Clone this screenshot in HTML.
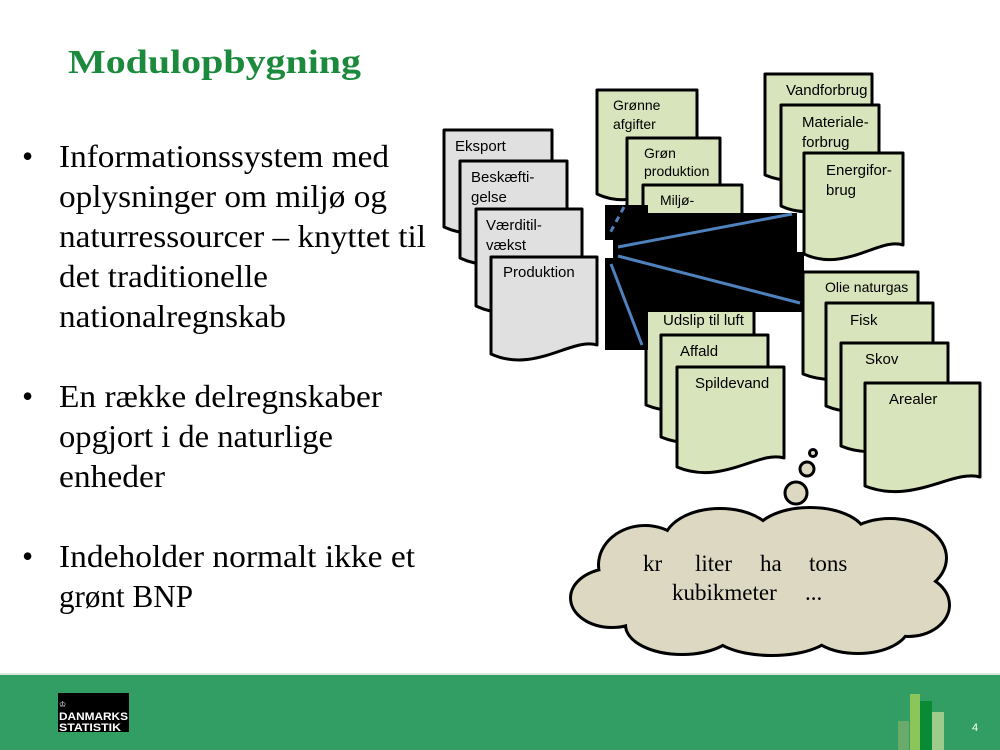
<!DOCTYPE html>
<html><head><meta charset="utf-8"><style>
html,body{margin:0;padding:0;background:#fff;}
svg{display:block;}
.t{font-family:"Liberation Serif",serif;}
.a{font-family:"Liberation Sans",sans-serif;font-size:15px;fill:#000;}
</style></head><body>
<svg width="1000" height="750" viewBox="0 0 1000 750" xmlns="http://www.w3.org/2000/svg">
<rect width="1000" height="750" fill="#fff"/>
<text x="68" y="73" class="t" font-size="34" font-weight="bold" fill="#1b8a3c" textLength="293" lengthAdjust="spacingAndGlyphs">Modulopbygning</text>
<g class="t" font-size="32" fill="#000" lengthAdjust="spacingAndGlyphs">
<text x="22" y="167">•</text>
<text x="59" y="167" textLength="330" lengthAdjust="spacingAndGlyphs">Informationssystem med</text>
<text x="59" y="207" textLength="328" lengthAdjust="spacingAndGlyphs">oplysninger om miljø og</text>
<text x="59" y="247" textLength="367" lengthAdjust="spacingAndGlyphs">naturressourcer – knyttet til</text>
<text x="59" y="287" textLength="209" lengthAdjust="spacingAndGlyphs">det traditionelle</text>
<text x="59" y="327" textLength="227" lengthAdjust="spacingAndGlyphs">nationalregnskab</text>
<text x="22" y="407">•</text>
<text x="59" y="407" textLength="323" lengthAdjust="spacingAndGlyphs">En række delregnskaber</text>
<text x="59" y="447" textLength="274" lengthAdjust="spacingAndGlyphs">opgjort i de naturlige</text>
<text x="59" y="487" textLength="106" lengthAdjust="spacingAndGlyphs">enheder</text>
<text x="22" y="567">•</text>
<text x="59" y="567" textLength="356" lengthAdjust="spacingAndGlyphs">Indeholder normalt ikke et</text>
<text x="59" y="607" textLength="134" lengthAdjust="spacingAndGlyphs">grønt BNP</text>
</g>
<g stroke="#000" stroke-width="3" stroke-linejoin="round">
<path fill="#e0e0e0" d="M444 130H552V219C527 211 490 248 444 227Z"/>
<path fill="#e0e0e0" d="M460 161H567V250C542 242 505 279 460 258Z"/>
<path fill="#e0e0e0" d="M476 209H582V298C557 290 520 327 476 306Z"/>
<path fill="#e0e0e0" d="M491 257H597V345C572 337 535 374 491 354Z"/>
<path fill="#d8e4bc" d="M597 90H697V185C672 178 637 213 597 194Z"/>
<path fill="#d8e4bc" d="M627 138H720V230C697 223 664 258 627 240Z"/>
<path fill="#d8e4bc" d="M643 185H742V278C719 271 684 306 643 288Z"/>
<path fill="#d8e4bc" d="M765 74H872V166C847 158 810 194 765 175Z"/>
<path fill="#d8e4bc" d="M781 105H879V197C856 189 821 225 781 206Z"/>
<path fill="#d8e4bc" d="M804 153H903V245C880 237 845 273 804 254Z"/>
<path fill="#d8e4bc" d="M646 300H754V396C729 388 692 424 646 405Z"/>
<path fill="#d8e4bc" d="M661 335H768V428C743 420 706 456 661 437Z"/>
<path fill="#d8e4bc" d="M677 367H784V458C759 450 722 486 677 467Z"/>
<path fill="#d8e4bc" d="M803 272H918V365C891 357 851 393 803 374Z"/>
<path fill="#d8e4bc" d="M826 303H933V397C908 389 871 425 826 406Z"/>
<path fill="#d8e4bc" d="M841 343H948V437C923 429 886 465 841 446Z"/>
<path fill="#d8e4bc" d="M865 383H980V477C953 469 913 505 865 486Z"/>
</g>
<g class="a">
<text x="455" y="151">Eksport</text>
<text x="471" y="182">Beskæfti-</text><text x="471" y="202">gelse</text>
<text x="486" y="230">Værditil-</text><text x="486" y="250">vækst</text>
<text x="503" y="277">Produktion</text>
<text x="613" y="110" font-size="14">Grønne</text><text x="613" y="129" font-size="14">afgifter</text>
<text x="644" y="158" font-size="14">Grøn</text><text x="644" y="176" font-size="14">produktion</text>
<text x="660" y="205" font-size="14">Miljø-</text>
<text x="786" y="95">Vandforbrug</text>
<text x="802" y="127">Materiale-</text><text x="802" y="147">forbrug</text>
<text x="826" y="175">Energifor-</text><text x="826" y="195">brug</text>
<text x="663" y="325">Udslip til luft</text>
<text x="680" y="356">Affald</text>
<text x="695" y="388">Spildevand</text>
<text x="825" y="292" font-size="14">Olie naturgas</text>
<text x="850" y="325">Fisk</text>
<text x="865" y="364">Skov</text>
<text x="889" y="404">Arealer</text>
</g>
<g fill="#000">
<rect x="605" y="205" width="43" height="145"/>
<rect x="613" y="213" width="184" height="45"/>
<rect x="613" y="252" width="191" height="60"/>
</g>
<rect x="605" y="240" width="8" height="18" fill="#fff"/>
<g stroke="#4f81bd" stroke-width="3" fill="none">
<line x1="618" y1="247" x2="792" y2="214"/>
<line x1="618" y1="256" x2="800" y2="303"/>
<line x1="611" y1="264" x2="642" y2="345"/>
<line x1="624" y1="207" x2="610" y2="233" stroke-dasharray="6 5"/>
</g>
<g fill="#ddd8c2" stroke="#000" stroke-width="6">
<ellipse cx="645" cy="565" rx="45" ry="38"/>
<ellipse cx="720" cy="543" rx="55" ry="33"/>
<ellipse cx="810" cy="537" rx="55" ry="28"/>
<ellipse cx="890" cy="558" rx="55" ry="38"/>
<ellipse cx="612" cy="598" rx="40" ry="28"/>
<ellipse cx="908" cy="605" rx="40" ry="30"/>
<ellipse cx="682" cy="625" rx="55" ry="28"/>
<ellipse cx="772" cy="630" rx="60" ry="24"/>
<ellipse cx="858" cy="625" rx="50" ry="27"/>
</g>
<g fill="#ddd8c2">
<ellipse cx="645" cy="565" rx="45" ry="38"/>
<ellipse cx="720" cy="543" rx="55" ry="33"/>
<ellipse cx="810" cy="537" rx="55" ry="28"/>
<ellipse cx="890" cy="558" rx="55" ry="38"/>
<ellipse cx="612" cy="598" rx="40" ry="28"/>
<ellipse cx="908" cy="605" rx="40" ry="30"/>
<ellipse cx="682" cy="625" rx="55" ry="28"/>
<ellipse cx="772" cy="630" rx="60" ry="24"/>
<ellipse cx="858" cy="625" rx="50" ry="27"/>
<ellipse cx="760" cy="588" rx="150" ry="48"/>
</g>
<g fill="#ddd8c2" stroke="#000" stroke-width="3">
<circle cx="796" cy="493" r="11"/>
<circle cx="807" cy="469" r="7"/>
<circle cx="813" cy="453" r="3.5"/>
</g>
<g class="t" font-size="23" fill="#000">
<text x="643" y="571">kr</text>
<text x="695" y="571">liter</text>
<text x="760" y="571">ha</text>
<text x="809" y="571">tons</text>
<text x="672" y="600">kubikmeter</text>
<text x="805" y="600">...</text>
</g>
<rect x="0" y="673" width="1000" height="2" fill="#d9e8dd"/>
<rect x="0" y="675" width="1000" height="75" fill="#329e63"/>
<rect x="58" y="693" width="71" height="39" fill="#000"/>
<text x="59" y="707" font-family="Liberation Sans,sans-serif" font-size="8" fill="#fff">♔</text>
<text x="59" y="720" font-family="Liberation Sans,sans-serif" font-size="11" font-weight="bold" fill="#fff" textLength="69" lengthAdjust="spacingAndGlyphs">DANMARKS</text>
<text x="59" y="731" font-family="Liberation Sans,sans-serif" font-size="11" font-weight="bold" fill="#fff" textLength="62" lengthAdjust="spacingAndGlyphs">STATISTIK</text>
<rect x="898" y="721" width="11" height="29" fill="#6aaa6a"/>
<rect x="910" y="694" width="10" height="56" fill="#8cc65a"/>
<rect x="920" y="701" width="12" height="49" fill="#0b8a35"/>
<rect x="932" y="712" width="12" height="38" fill="#9ccb8c"/>
<text x="972" y="731" font-family="Liberation Sans,sans-serif" font-size="11" fill="#fff">4</text>
</svg>
</body></html>
